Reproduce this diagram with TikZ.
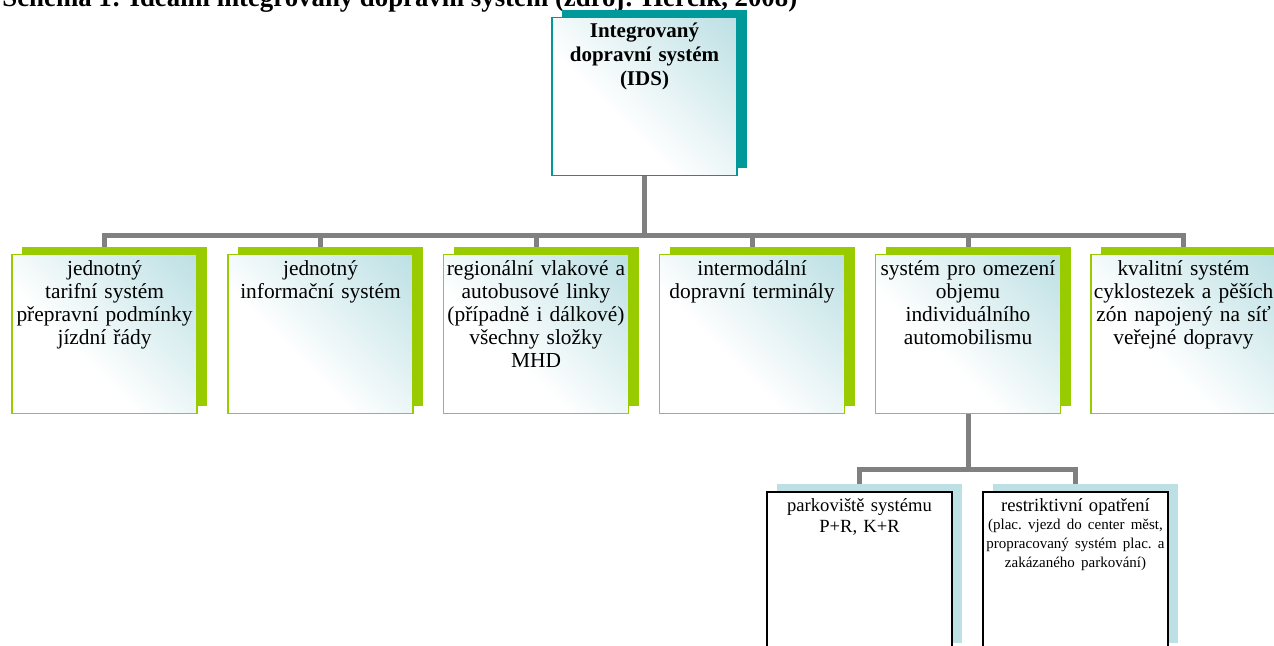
\documentclass[tikz,border=0pt]{standalone}
\usepackage{fontspec}
\setmainfont{Liberation Serif}
\usetikzlibrary{shadows,backgrounds}

\definecolor{idsteal}{RGB}{0,153,153}
\definecolor{leafgreen}{RGB}{153,204,0}
\definecolor{linkgray}{RGB}{128,128,128}
\definecolor{paleblue}{RGB}{189,224,228}

% Fill fading towards the top right corner (used with shading angle=-45):
\pgfdeclareverticalshading{cornerglow}{100bp}{%
  color(0bp)=(white); color(40bp)=(white); color(60bp)=(paleblue!45!white);
  color(85bp)=(paleblue); color(100bp)=(paleblue)}

\begin{document}
\begin{tikzpicture}
[x=0.5pt, y=-0.5pt,
 box/.style={shading=cornerglow, shading angle=-45, line width=0.75pt, align=center,
   anchor=north, inner xsep=1.25pt, inner ysep=3pt},
 topbox/.style={box, draw=idsteal, text width=90pt, text height=7pt, text depth=66pt,
   font=\bfseries\fontsize{10.5}{12}\selectfont,
   general shadow={shadow xshift=5pt, shadow yshift=4pt, fill=idsteal, draw=none}},
 rowbox/.style={box, draw=leafgreen, text width=90pt, text height=7.5pt, text depth=66pt,
   font=\fontsize{10.7}{11.5}\selectfont,
   general shadow={shadow xshift=5pt, shadow yshift=4pt, fill=leafgreen, draw=none}},
 subbox/.style={draw=black, fill=white, line width=1pt, align=center, anchor=north,
   inner xsep=1pt, inner ysep=3pt, text width=90.5pt, text height=6.5pt, text depth=67pt,
   font=\fontsize{9.3}{10.5}\selectfont,
   general shadow={shadow xshift=5pt, shadow yshift=4pt, fill=paleblue, draw=none}},
 link/.style={draw=linkgray, line width=2.5pt}]

\useasboundingbox (0,0) rectangle (1274,646);

% Title (cut at the top edge):
\node[anchor=base west, inner sep=0pt, font=\bfseries\fontsize{13.4}{15}\selectfont] (title) at (2,7)
  {Schéma 1: Ideální integrovaný dopravní systém (zdroj: Herčík, 2008)};

% Top box:
\node[topbox] (ids) at (644.5,17) {Integrovaný\\dopravní systém\\(IDS)};

% Row of components:
\node[rowbox] (r1) at (104.5,254) {jednotný\\tarifní systém\\přepravní podmínky\\jízdní řády};
\node[rowbox] (r2) at (320.5,254) {jednotný\\informační systém};
\node[rowbox] (r3) at (536,254)   {regionální vlakové a\\autobusové linky\\(případně i dálkové)\\všechny složky\\MHD};
\node[rowbox] (r4) at (752,254)   {intermodální\\dopravní terminály};
\node[rowbox] (r5) at (968,254)   {systém pro omezení\\objemu\\individuálního\\automobilismu};
\node[rowbox] (r6) at (1183.5,254) {kvalitní systém\\cyklostezek a pěších\\zón napojený na síť\\veřejné dopravy};

% Sub boxes:
\node[subbox] (s1) at (859.5,491) {parkoviště systému\\P+R, K+R};
\node[subbox] (s2) at (1075.5,491) {restriktivní opatření\\[-1.5pt]
  \parbox[t]{90.5pt}{\centering\frenchspacing\fontsize{7.5}{9.6}\selectfont
    (plac. vjezd do center měst,\\propracovaný systém plac.~a\\zakázaného parkování)}};

% Connectors:
\coordinate (bus) at (644.5,236);
\coordinate (subbus) at (968,469);
\begin{scope}[on background layer]
\foreach \i in {1,...,6}
  \draw[link] (ids.south) -- (bus) -| (r\i.north);
\foreach \i in {1,2}
  \draw[link] (r5.south) -- (subbus) -| (s\i.north);
\end{scope}

\end{tikzpicture}
\end{document}
